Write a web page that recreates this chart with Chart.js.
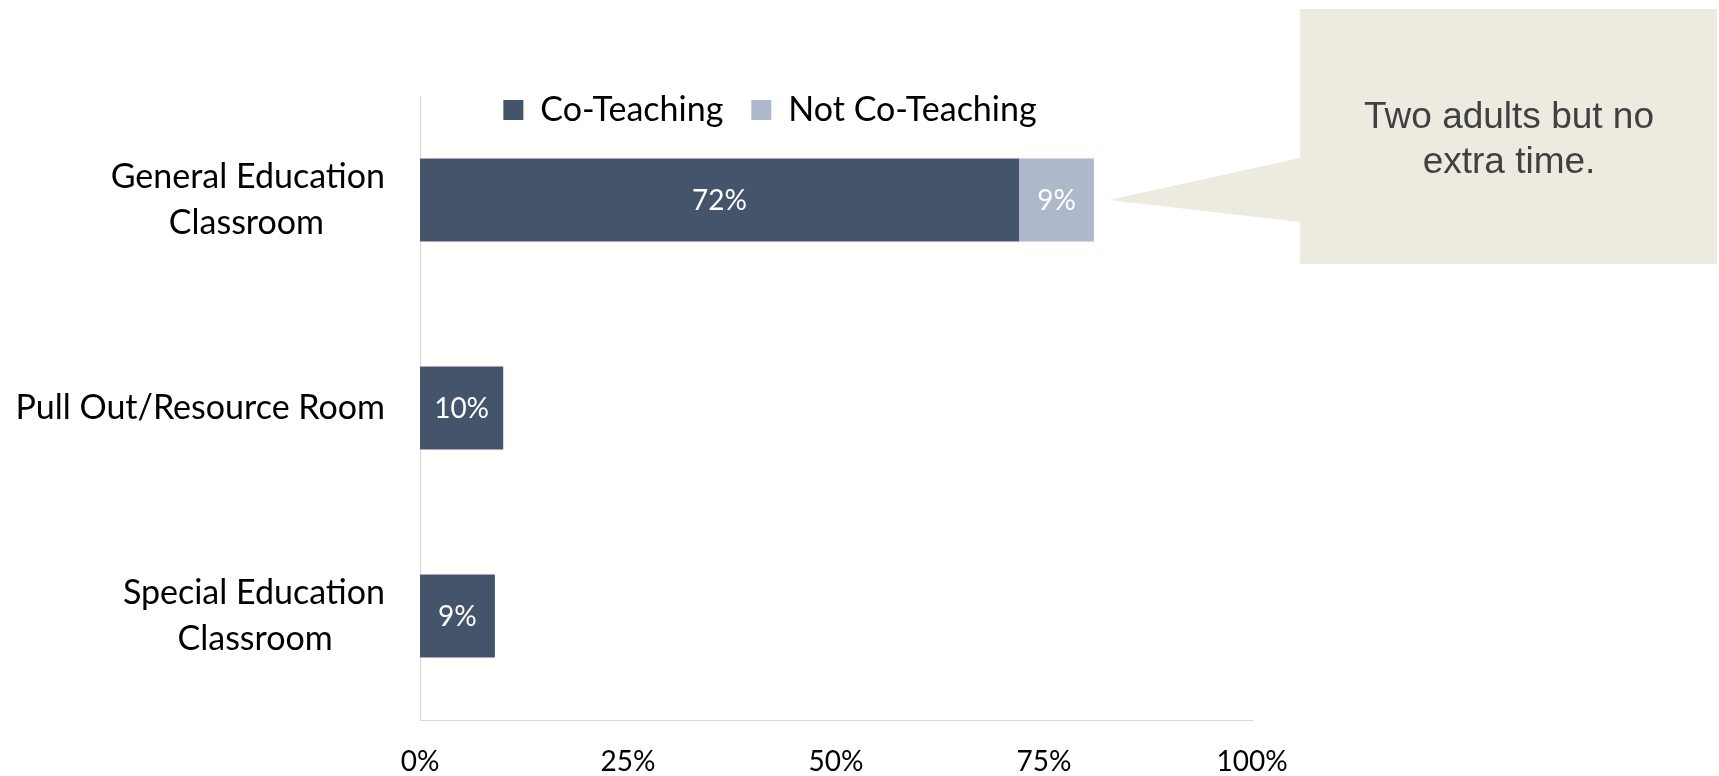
<!DOCTYPE html>
<html>
<head>
<meta charset="utf-8">
<script src="https://cdn.jsdelivr.net/npm/chart.js@4.4.1/dist/chart.umd.min.js"></script>
<style>
  body { margin: 0; background: #fff; }
  #wrap { width: 1719px; height: 776px; }
</style>
</head>
<body>
<div id="wrap"><canvas id="grafico" width="1719" height="776"></canvas></div>
<script>
// datos
const categorias = [["General Education", "Classroom"], "Pull Out/Resource Room", ["Special Education", "Classroom"]];
const coTeaching = [72, 10, 9];
const notCoTeaching = [9, null, null];
const ticksX = [0, 25, 50, 75, 100];
const nota = ["Two adults but no", "extra time."];

const fuente = "Lato, 'Open Sans', sans-serif";
const tamLabel = 34;

// centra las lineas cortas bajo la mas larga (etiquetas alineadas a la derecha)
const medidor = document.createElement("canvas").getContext("2d");
function centrarLineas(label) {
    if (!Array.isArray(label)) return label;
    medidor.font = tamLabel + "px " + fuente;
    const anchos = label.map(l => medidor.measureText(l).width);
    const max = Math.max(...anchos);
    const esp = medidor.measureText(" ").width;
    return label.map((l, i) => l + " ".repeat(Math.round((max - anchos[i]) / 2 / esp)));
}

const moverLeyenda = {
    id: "moverLeyenda",
    afterLayout(chart) {
        const lg = chart.legend;
        const pad = lg.options.labels.padding;
        const fs = lg.options.labels.font.size;
        const dy = 110 - (lg.top + pad + fs / 2);
        const dx = 770 - (lg.left + lg.right) / 2;
        lg.top += dy; lg.bottom += dy;
        lg.left += dx; lg.right += dx;
    }
};

const etiquetasDatos = {
    id: "etiquetasDatos",
    afterDatasetsDraw(chart) {
        const ctx = chart.ctx;
        ctx.save();
        ctx.fillStyle = "#ffffff";
        ctx.font = "28px " + fuente;
        ctx.textAlign = "center";
        ctx.textBaseline = "middle";
        chart.data.datasets.forEach((ds, i) => {
            chart.getDatasetMeta(i).data.forEach((bar, j) => {
                const v = ds.data[j];
                if (v === null || v === undefined) return;
                ctx.fillText(v + "%", (bar.x + bar.base) / 2, bar.y + 1);
            });
        });
        ctx.restore();
    }
};

const globo = {
    id: "globo",
    afterDraw(chart) {
        const ctx = chart.ctx;
        const bar = chart.getDatasetMeta(1).data[0];
        const puntaX = bar.x + 15;
        const puntaY = bar.y;
        const x0 = 1300, y0 = 9, x1 = 1717, y1 = 264;
        ctx.save();
        ctx.fillStyle = "#EDEAE0";
        ctx.beginPath();
        ctx.moveTo(x0, y0);
        ctx.lineTo(x1, y0);
        ctx.lineTo(x1, y1);
        ctx.lineTo(x0, y1);
        ctx.lineTo(x0, puntaY + 22);
        ctx.lineTo(puntaX, puntaY);
        ctx.lineTo(x0, puntaY - 42);
        ctx.closePath();
        ctx.fill();
        ctx.fillStyle = "#404040";
        ctx.font = "37px 'Liberation Sans', Arial, sans-serif";
        ctx.textAlign = "center";
        ctx.textBaseline = "alphabetic";
        ctx.fillText(nota[0], 1509, 128);
        ctx.fillText(nota[1], 1509, 173);
        ctx.restore();
    }
};

const ctx = document.getElementById("grafico").getContext("2d");
new Chart(ctx, {
    type: "bar",
    data: {
        labels: categorias,
        datasets: [{
            label: "Co-Teaching",
            data: coTeaching,
            backgroundColor: "#44546A",
            categoryPercentage: 1,
            barPercentage: 0.4
        }, {
            label: "Not Co-Teaching",
            data: notCoTeaching,
            backgroundColor: "#ADB9CA",
            categoryPercentage: 1,
            barPercentage: 0.4
        }]
    },
    options: {
        indexAxis: "y",
        responsive: false,
        animation: false,
        layout: { padding: { top: 24, right: 467, left: 0, bottom: 0 } },
        plugins: {
            tooltip: { enabled: false },
            legend: {
                position: "top",
                labels: {
                    boxWidth: 20,
                    boxHeight: 20,
                    padding: 28,
                    color: "#000",
                    font: { family: fuente, size: 34 }
                }
            }
        },
        scales: {
            x: {
                stacked: true,
                min: 0,
                max: 100,
                afterBuildTicks: axis => { axis.ticks = ticksX.map(v => ({ value: v })); },
                afterFit: axis => { axis.height = 56; },
                grid: { display: false, drawTicks: false },
                border: { display: true, color: "#D9D9D9", width: 1 },
                ticks: {
                    padding: 25,
                    color: "#000",
                    font: { family: fuente, size: 28 },
                    callback: v => v + "%"
                }
            },
            y: {
                stacked: true,
                // marcas invisibles: dan el hueco entre etiquetas y eje
                grid: { display: true, drawOnChartArea: false, drawTicks: true, tickLength: 35, color: "rgba(0,0,0,0)" },
                border: { display: true, color: "#D9D9D9", width: 1 },
                afterFit: axis => { axis.width = 420; },
                ticks: {
                    padding: 0,
                    color: "#000",
                    font: { family: fuente, size: tamLabel, lineHeight: 1.36 },
                    callback: function (v, i) { return centrarLineas(categorias[i]); }
                }
            }
        }
    },
    plugins: [moverLeyenda, etiquetasDatos, globo]
});
</script>
</body>
</html>
